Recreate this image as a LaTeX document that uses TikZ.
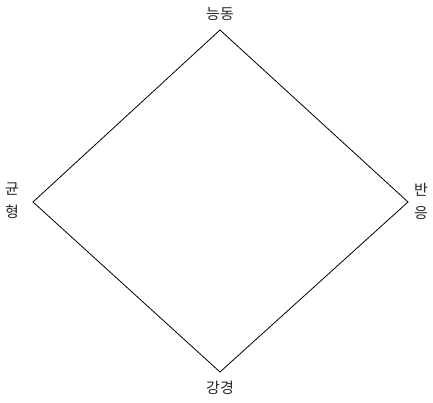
\documentclass[tikz,border=0pt]{standalone}
\usepackage{fontspec}
\newfontfamily\kr{Noto Sans CJK KR}
\begin{document}
\begin{tikzpicture}[x=1pt,y=1pt,
  lbl/.style={font=\kr\fontsize{15}{17}\selectfont, text=black!85, inner sep=0pt, align=center}]
\useasboundingbox (0,0) rectangle (433,402);
\coordinate (t) at (220,372);
\coordinate (r) at (408,200);
\coordinate (b) at (220,30);
\coordinate (l) at (33,200);
\draw[line width=0.8pt] (t) -- (r) -- (b) -- (l) -- cycle;
\node[lbl] (nt) at (220,388) {능동};
\node[lbl] (nb) at (220,14) {강경};
\node[lbl, font=\kr\fontsize{15}{23}\selectfont] (nl) at (12,201) {균\\형};
\node[lbl, font=\kr\fontsize{15}{23}\selectfont] (nr) at (421,201) {반\\응};
\end{tikzpicture}
\end{document}
